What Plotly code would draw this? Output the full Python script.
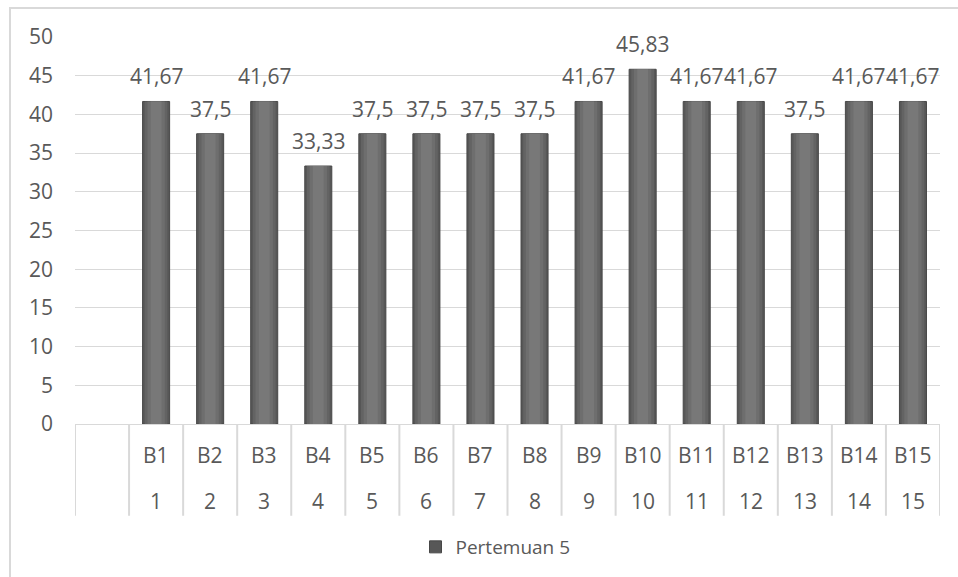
import plotly.graph_objects as go

categories = ["B%d" % i for i in range(1, 16)]
sub_labels = [str(i) for i in range(1, 16)]
values = [41.67, 37.5, 41.67, 33.33, 37.5, 37.5, 37.5, 37.5, 41.67, 45.83, 41.67, 41.67, 37.5, 41.67, 41.67]
series_name = "Pertemuan 5"
y_ticks = list(range(0, 55, 5))

FONT = "Open Sans"
TXT = "#595959"
GRID = "#d9d9d9"
FS = 21

L, R, T, B = 75, 18, 37, 152
W, H = 958, 577
plot_w = W - L - R
plot_h = H - T - B

def fmt(v):
    s = ("%.2f" % v).rstrip("0").rstrip(".")
    return s.replace(".", ",")

fig = go.Figure()
fig.add_trace(go.Bar(
    x=categories, y=values, name=series_name, width=0.5,
    marker=dict(color="#575757", line=dict(color="#474747", width=1)),
))
for w, col in [(0.42, "#636363"), (0.32, "#6e6e6e"), (0.2, "#787878")]:
    fig.add_trace(go.Bar(
        x=categories, y=values, name=series_name, width=w, showlegend=False,
        marker=dict(color=col, line=dict(width=0)), hoverinfo="skip",
    ))

ann = []
for c, v in zip(categories, values):
    ann.append(dict(x=c, y=v, xref="x", yref="y", text=fmt(v), showarrow=False,
                    yanchor="bottom", yshift=9, font=dict(family=FONT, size=FS, color=TXT)))
for c, s in zip(categories, sub_labels):
    ann.append(dict(x=c, y=0, xref="x", yref="paper", text=c, showarrow=False,
                    yanchor="middle", yshift=-31, font=dict(family=FONT, size=FS, color=TXT)))
    ann.append(dict(x=c, y=0, xref="x", yref="paper", text=s, showarrow=False,
                    yanchor="middle", yshift=-77, font=dict(family=FONT, size=FS, color=TXT)))

shapes = []
n = len(categories)
div_h = 92 / plot_h
for k in range(-1, n + 1):
    xb = k - 0.5
    shapes.append(dict(type="line", xref="x", yref="paper", x0=xb, x1=xb, y0=0, y1=-div_h,
                       line=dict(color=GRID, width=2)))
# outer chart border
shapes.append(dict(type="rect", xref="paper", yref="paper",
                   x0=(10 - L) / plot_w, x1=1.2,
                   y0=-0.6, y1=(H - B - 8) / plot_h,
                   line=dict(color=GRID, width=2), fillcolor="rgba(0,0,0,0)"))

fig.update_layout(
    width=W, height=H,
    margin=dict(l=L, r=R, t=T, b=B),
    paper_bgcolor="white", plot_bgcolor="white",
    barmode="overlay",
    font=dict(family=FONT, size=FS, color=TXT),
    xaxis=dict(type="category", categoryarray=categories, categoryorder="array",
               range=[-1.5, n - 0.5], showticklabels=False, showgrid=False,
               showline=True, linecolor=GRID, linewidth=1, ticks="", zeroline=False),
    yaxis=dict(range=[0, 50], tickvals=y_ticks, showgrid=True, gridcolor=GRID, gridwidth=1,
               zeroline=False, showline=False, ticks="", ticklabelstandoff=21,
               tickfont=dict(family=FONT, size=FS, color=TXT)),
    showlegend=True,
    legend=dict(orientation="h", x=0.5 - 12 / plot_w, xanchor="center", y=(H - B - 547) / plot_h,
                yanchor="middle", font=dict(family=FONT, size=19, color=TXT),
                bgcolor="rgba(0,0,0,0)"),
    annotations=ann,
    shapes=shapes,
)

fig.write_html("out.html")
